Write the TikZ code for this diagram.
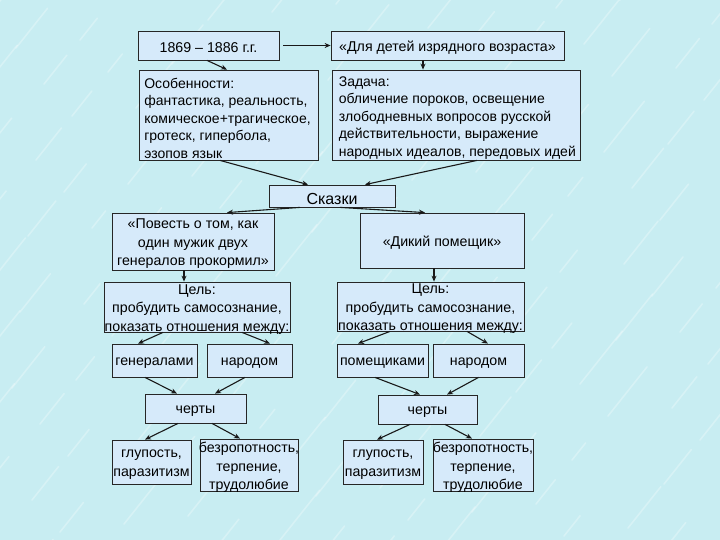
\documentclass[tikz,border=0pt]{standalone}
\usepackage{fontspec}
\setmainfont{Liberation Sans}
\usetikzlibrary{arrows.meta}
\definecolor{bgcyan}{RGB}{200,237,242}
\definecolor{boxblue}{RGB}{214,234,250}
\newcommand\mybox[7]{%
  \node[frame, minimum width=#4, minimum height=#5] (#1) at (#2,#3) {};
  \node[txt, #6] at ([yshift=-2.5pt]#1.center) {#7};}
\begin{document}
\begin{tikzpicture}[x=1pt,y=-1pt,
  frame/.style={draw=black!85, line width=0.8pt, fill=boxblue, inner sep=0pt},
  txt/.style={inner sep=0pt, font=\fontsize{14.2}{18.5}\selectfont, align=center},
  ltxt/.style={inner sep=0pt, font=\fontsize{14}{17.5}\selectfont, align=left, anchor=west},
  arr/.style={-{Stealth[length=6pt,width=5pt]}, line width=1.1pt, black!90}]
\fill[bgcyan] (0,0) rectangle (720,540);
\useasboundingbox (0,0) rectangle (720,540);
\foreach \i in {0,...,140}{
  \pgfmathsetmacro{\sx}{mod(\i*37,197)*4-40}
  \pgfmathsetmacro{\sy}{mod(\i*23,151)*4-20}
  \pgfmathsetmacro{\ln}{20+mod(\i*53,50)}
  \draw[white, opacity=0.28, line width=1.6pt, line cap=round] (\sx,\sy) -- ++(0.62*\ln,-0.78*\ln);
}
\mybox{b1}{208.5}{45.5}{141}{29}{}{1869 – 1886 г.г.}
\mybox{b2}{447.5}{45.5}{233}{29}{}{«Для детей изрядного возраста»}
\node[frame, minimum width=179, minimum height=90] (b3) at (228.5,115) {};
\node[ltxt] at ([xshift=5.5pt,yshift=-3pt]b3.west)
  {Особенности:\\фантастика, реальность,\\комическое+трагическое,\\гротеск, гипербола,\\эзопов язык};
\node[frame, minimum width=248, minimum height=90] (b4) at (456,115) {};
\node[ltxt] at ([xshift=7pt,yshift=-3pt]b4.west)
  {Задача:\\обличение пороков, освещение\\злободневных вопросов русской\\действительности, выражение\\народных идеалов, передовых идей};
\mybox{sk}{332}{196}{126}{22}{font=\fontsize{16}{18}\selectfont}{Сказки}
\mybox{pov}{193}{241.5}{162}{57}{}{«Повесть о том, как\\один мужик двух\\генералов прокормил»}
\mybox{dik}{442}{240.5}{164}{55}{}{«Дикий помещик»}
\mybox{c1}{197}{307}{186}{50}{}{Цель:\\пробудить самосознание,\\показать отношения между:}
\mybox{c2}{430.5}{306.5}{187}{49}{}{Цель:\\пробудить самосознание,\\показать отношения между:}
\mybox{gen}{154.5}{360.5}{85}{33}{}{генералами}
\mybox{n1}{249.5}{360.5}{85}{33}{}{народом}
\mybox{pom}{382.5}{360.5}{91}{33}{}{помещиками}
\mybox{n2}{478.5}{360.5}{91}{33}{}{народом}
\mybox{ch1}{195.5}{408.5}{101}{29}{}{черты}
\mybox{ch2}{427.5}{409.5}{99}{29}{}{черты}
\mybox{gl1}{151.5}{462}{79}{44}{}{глупость,\\паразитизм}
\mybox{bz1}{249}{465}{98}{52}{}{безропотность,\\терпение,\\трудолюбие}
\mybox{gl2}{383}{462}{80}{44}{}{глупость,\\паразитизм}
\mybox{bz2}{483}{465}{100}{52}{}{безропотность,\\терпение,\\трудолюбие}

\draw[arr] ([xshift=4]b1.east) -- (b2.west);
\draw[arr] ([xshift=-1.5]b1.south) -- ([xshift=-1.5]b3.north);
\draw[arr] ([xshift=-24.5]b2.south) -- ([xshift=-33]b4.north);
\draw[arr] ([xshift=-8.5]b3.south) -- ([xshift=-24]sk.north);
\draw[arr] ([xshift=21]b4.south) -- ([xshift=33]sk.north);
\draw[arr] ([xshift=-32]sk.south) -- ([xshift=34]pov.north);
\draw[arr] ([xshift=8]sk.south) -- ([xshift=-17]dik.north);
\draw[arr] ([xshift=-9]pov.south) -- ([xshift=-13]c1.north);
\draw[arr] ([xshift=-8]dik.south) -- ([xshift=3.5]c2.north);
\draw[arr] ([xshift=-34]c1.south) -- ([xshift=-16.5]gen.north);
\draw[arr] ([xshift=45]c1.south) -- ([xshift=20.5]n1.north);
\draw[arr] ([xshift=-40.5]c2.south) -- ([xshift=-24.5]pom.north);
\draw[arr] ([xshift=36.5]c2.south) -- ([xshift=9.5]n2.north);
\draw[arr] ([xshift=-9.5]gen.south) -- ([xshift=-18.5]ch1.north);
\draw[arr] ([xshift=-4.5]n1.south) -- ([xshift=19.5]ch1.north);
\draw[arr] ([xshift=-7.5]pom.south) -- ([xshift=-7.5]ch2.north);
\draw[arr] ([xshift=0]n2.south) -- ([xshift=19.5]ch2.north);
\draw[arr] ([xshift=-17.5]ch1.south) -- ([xshift=-6.5]gl1.north);
\draw[arr] ([xshift=16.5]ch1.south) -- ([xshift=-9]bz1.north);
\draw[arr] ([xshift=-17.5]ch2.south) -- ([xshift=-6]gl2.north);
\draw[arr] ([xshift=17.5]ch2.south) -- ([xshift=-11]bz2.north);
\end{tikzpicture}
\end{document}
